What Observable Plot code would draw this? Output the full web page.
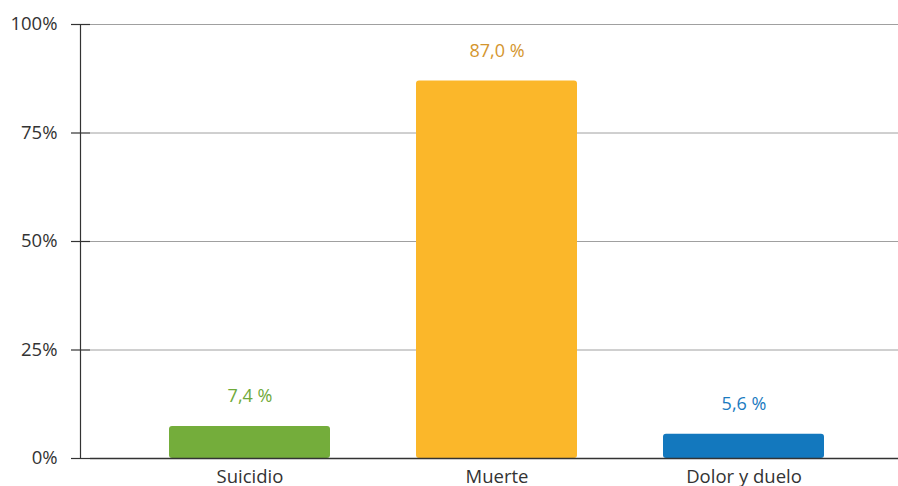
<!DOCTYPE html>
<html>
<head>
<meta charset="utf-8">
<script src="https://cdn.jsdelivr.net/npm/d3@7"></script>
<script src="https://cdn.jsdelivr.net/npm/@observablehq/plot@0.6"></script>
<style>
  html, body { margin: 0; padding: 0; background: #fff; }
  svg { display: block; }
</style>
</head>
<body>
<div id="chart"></div>
<script>
const categories = ["Suicidio", "Muerte", "Dolor y duelo"];
const values = [7.4, 87.0, 5.6];
const valueLabels = ["7,4 %", "87,0 %", "5,6 %"];
const yTicks = [0, 25, 50, 75, 100];

const barColors = ["#74ad3b", "#fbb72a", "#1378be"];
const labelColors = ["#6faa3a", "#d4962e", "#1b7bbf"];

const data = categories.map((c, i) => ({category: c, value: values[i], label: valueLabels[i], lc: labelColors[i]}));

const chart = Plot.plot({
  width: 898,
  height: 486,
  marginLeft: 90,
  marginRight: 0,
  marginTop: 24,
  marginBottom: 28,
  style: {fontFamily: "'Open Sans', Lato, sans-serif", fontSize: "18px", color: "#333", background: "#fff", overflow: "visible"},
  x: {domain: categories, range: [80, 913], paddingInner: 0.35, paddingOuter: 0.355, label: null},
  y: {domain: [0, 100], label: null},
  color: {domain: categories, range: barColors},
  marks: [
    Plot.ruleY(yTicks.filter(t => t > 0), {stroke: "#a0a0a0", strokeWidth: 1}),
    Plot.barY(data, {x: "category", y: "value", fill: "category", rx: 3}),
    Plot.text(data, {x: "category", y: "value", text: "label", fill: "lc", dy: -24, lineAnchor: "bottom", fontSize: 18}),
    Plot.axisY(yTicks, {tickSize: 19, tickPadding: 14, tickFormat: d => d + "%", stroke: "#333", strokeWidth: 1.2, fill: "#333", fontSize: 18.5, label: null}),
    Plot.ruleY([0], {stroke: "#333", strokeWidth: 1.5}),
    Plot.axisX({tickSize: 0, tickPadding: 11, fill: "#333", fontSize: 18.5, label: null}),
    Plot.frame({anchor: "left", dx: -10, stroke: "#333", strokeWidth: 1.2})
  ]
});
document.getElementById("chart").appendChild(chart);
</script>
</body>
</html>
